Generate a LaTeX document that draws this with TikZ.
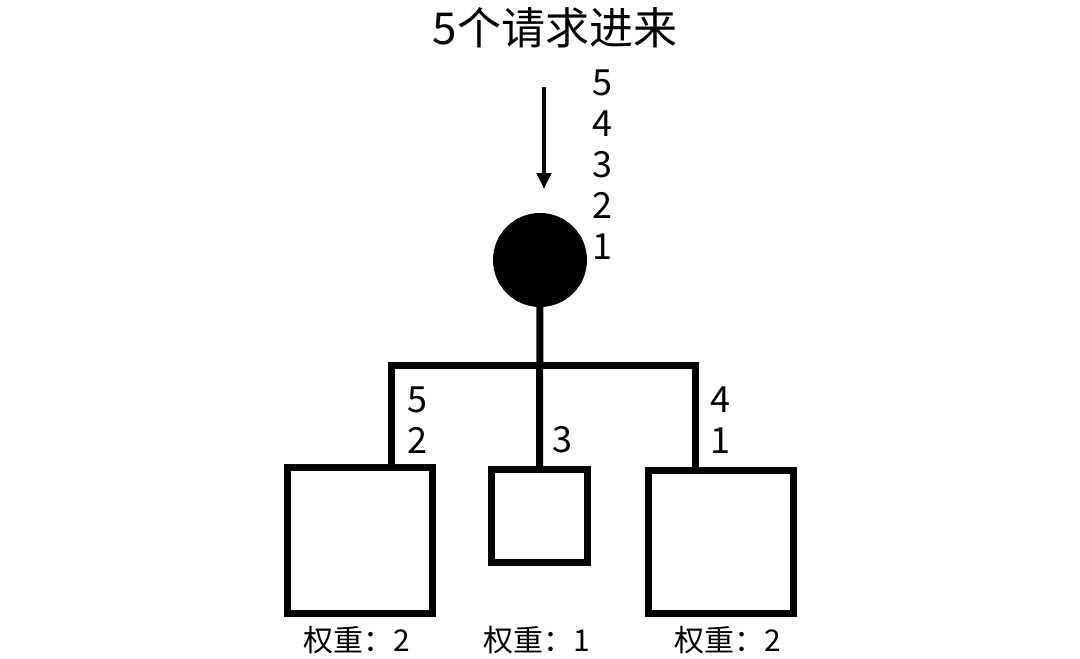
\documentclass[tikz,border=0pt]{standalone}
\usepackage{fontspec}
\setmainfont{Noto Sans CJK SC}
\usetikzlibrary{positioning,arrows.meta}

\begin{document}
\begin{tikzpicture}[
  x=1pt, y=-1pt,
  title/.style={font=\fontsize{44}{50}\selectfont, inner sep=0pt},
  num/.style={font=\fontsize{36}{41}\selectfont, align=center, inner sep=0pt},
  wlabel/.style={font=\fontsize{30}{34}\selectfont, inner sep=0pt},
  lb/.style={circle, fill=black, minimum size=94pt, inner sep=0pt},
  srv/.style={draw=black, line width=7pt, inner sep=0pt},
  wire/.style={draw=black, line width=7pt},
  ar/.style={-{Triangle[length=16pt,width=14pt]}, draw=black, line width=4pt},
]
\useasboundingbox (0,0) rectangle (1080,659);

\node[title] (head) at (555,28) {5个请求进来};

\coordinate (in) at (544,87);
\coordinate (intip) at (544,189);
\node[num] (queue) at (602,165) {5\\4\\3\\2\\1};

\node[lb] (bal) at (540,260) {};

\node[srv, minimum width=145pt, minimum height=146pt] (s1) at (359.5,540) {};
\node[srv, minimum width=96pt, minimum height=93pt]   (s2) at (539.5,516) {};
\node[srv, minimum width=145pt, minimum height=143pt] (s3) at (720.5,541.5) {};

\coordinate (j1) at (391,365.5);
\coordinate (j3) at (695,365.5);

\draw[ar] (in) -- (intip);
\draw[wire] (bal) -- (s2.north);
\draw[wire] (s1.north -| j1) -- (j1) -- (j3) -- (s3.north -| j3);

\node[num] (q1) at (417,420) {5\\2};
\node[num] (q2) at (562,440) {3};
\node[num] (q3) at (720,420) {4\\1};

\node[wlabel] (w1) at (357,640) {权重：2};
\node[wlabel] (w2) at (537,640) {权重：1};
\node[wlabel] (w3) at (728,640) {权重：2};

\end{tikzpicture}
\end{document}
